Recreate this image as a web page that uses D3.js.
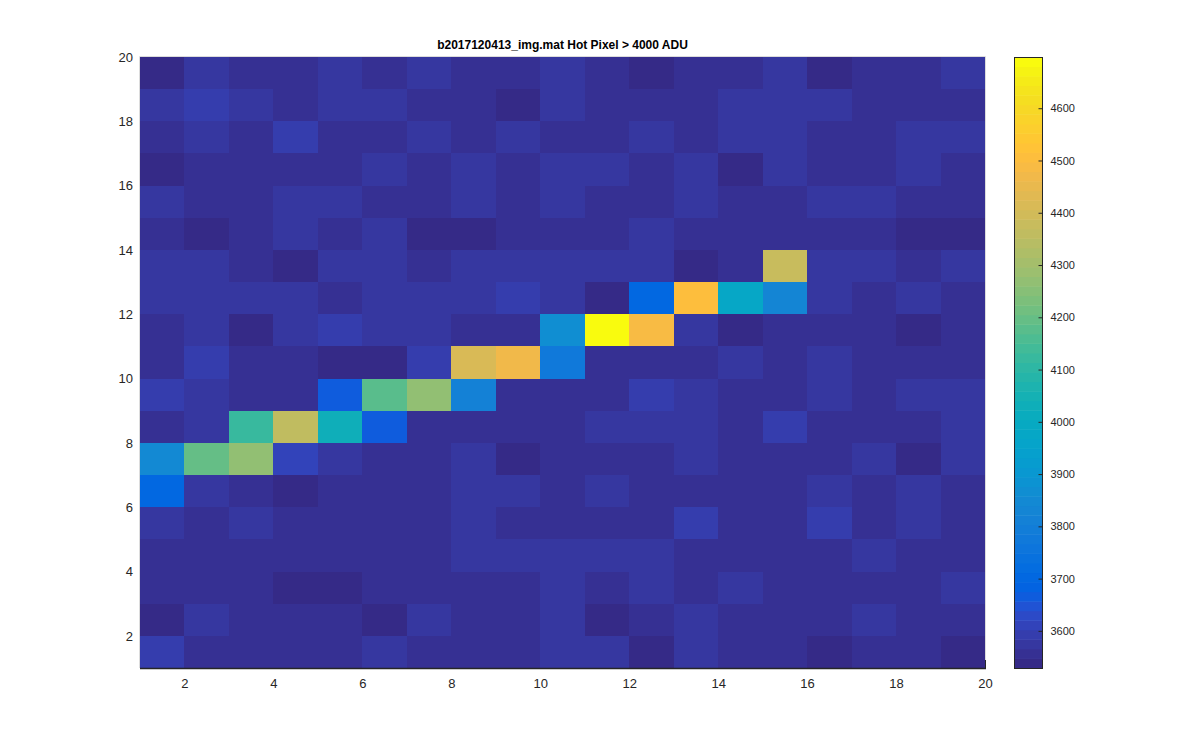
<!DOCTYPE html>
<html>
<head>
<meta charset="utf-8">
<script src="https://d3js.org/d3.v7.min.js"></script>
<style>
    body { margin: 0; background: #fff; }
    svg { font-family: "Liberation Sans", Arial, Helvetica, sans-serif; }
    .tick text { fill: #262626; }
</style>
</head>
<body>
<script>
    var SVGWidth = 1200;
    var SVGHeight = 750;

    var title = "b2017120413_img.mat Hot Pixel > 4000 ADU";

    // pixel columns / rows (pcolor cells, lower-left corner index)
    var cols = [1, 2, 3, 4, 5, 6, 7, 8, 9, 10, 11, 12, 13, 14, 15, 16, 17, 18, 19];
    var rows = [19, 18, 17, 16, 15, 14, 13, 12, 11, 10, 9, 8, 7, 6, 5, 4, 3, 2, 1];

    // ADU values, one line per row from top (19) to bottom (1)
    var values = [
        [3538, 3575, 3556, 3558, 3577, 3555, 3574, 3557, 3559, 3576, 3556, 3540, 3558, 3556, 3578, 3537, 3557, 3555, 3576],
        [3574, 3594, 3573, 3556, 3576, 3577, 3557, 3555, 3539, 3578, 3556, 3558, 3557, 3575, 3577, 3574, 3556, 3558, 3555],
        [3557, 3575, 3556, 3596, 3555, 3557, 3576, 3556, 3574, 3557, 3555, 3577, 3556, 3576, 3574, 3556, 3558, 3575, 3577],
        [3536, 3556, 3558, 3555, 3557, 3575, 3556, 3577, 3555, 3574, 3576, 3557, 3575, 3534, 3577, 3556, 3555, 3574, 3557],
        [3576, 3555, 3557, 3575, 3577, 3556, 3558, 3574, 3556, 3576, 3555, 3557, 3578, 3556, 3555, 3575, 3577, 3556, 3558],
        [3557, 3535, 3556, 3576, 3555, 3574, 3538, 3536, 3557, 3556, 3558, 3575, 3556, 3557, 3555, 3558, 3556, 3541, 3539],
        [3575, 3577, 3556, 3533, 3574, 3576, 3557, 3575, 3577, 3574, 3576, 3578, 3540, 3556, 4379, 3575, 3577, 3556, 3574],
        [3576, 3574, 3577, 3575, 3556, 3578, 3575, 3576, 3594, 3577, 3537, 3703, 4506, 3977, 3831, 3575, 3557, 3577, 3556],
        [3556, 3576, 3531, 3575, 3597, 3577, 3574, 3557, 3555, 3858, 4698, 4489, 3576, 3536, 3557, 3556, 3558, 3538, 3555],
        [3557, 3595, 3556, 3558, 3542, 3544, 3596, 4415, 4470, 3776, 3556, 3557, 3555, 3576, 3557, 3575, 3556, 3558, 3557],
        [3593, 3575, 3556, 3557, 3666, 4178, 4269, 3813, 3558, 3556, 3555, 3594, 3577, 3556, 3557, 3575, 3556, 3576, 3574],
        [3556, 3576, 4123, 4360, 4032, 3666, 3557, 3555, 3556, 3558, 3575, 3577, 3574, 3556, 3595, 3557, 3555, 3556, 3576],
        [3855, 4196, 4269, 3611, 3576, 3557, 3556, 3577, 3537, 3556, 3558, 3555, 3575, 3557, 3556, 3558, 3576, 3539, 3577],
        [3710, 3575, 3556, 3536, 3557, 3555, 3558, 3576, 3577, 3556, 3574, 3557, 3555, 3558, 3556, 3577, 3557, 3575, 3556],
        [3576, 3556, 3577, 3555, 3557, 3556, 3558, 3575, 3556, 3557, 3555, 3558, 3596, 3556, 3557, 3594, 3555, 3576, 3557],
        [3557, 3555, 3556, 3558, 3557, 3556, 3555, 3576, 3577, 3575, 3574, 3576, 3557, 3556, 3558, 3555, 3577, 3556, 3557],
        [3556, 3558, 3555, 3542, 3540, 3556, 3557, 3555, 3558, 3576, 3556, 3575, 3557, 3577, 3556, 3555, 3557, 3558, 3576],
        [3529, 3576, 3556, 3557, 3555, 3537, 3575, 3556, 3558, 3577, 3538, 3557, 3574, 3556, 3555, 3557, 3576, 3558, 3556],
        [3593, 3556, 3558, 3555, 3557, 3576, 3556, 3557, 3555, 3577, 3575, 3536, 3576, 3556, 3558, 3537, 3555, 3557, 3539]
    ];

    var xTicks = [2, 4, 6, 8, 10, 12, 14, 16, 18, 20];
    var yTicks = [2, 4, 6, 8, 10, 12, 14, 16, 18, 20];
    var cbarTicks = [3600, 3700, 3800, 3900, 4000, 4100, 4200, 4300, 4400, 4500, 4600];

    // MATLAB parula, 64 entries
    var parula = [
        [0.2081,0.1663,0.5292],[0.2116,0.1898,0.5777],[0.2123,0.2138,0.6270],[0.2081,0.2386,0.6771],
        [0.1959,0.2645,0.7279],[0.1707,0.2919,0.7792],[0.1253,0.3242,0.8303],[0.0591,0.3598,0.8683],
        [0.0117,0.3875,0.8820],[0.0060,0.4086,0.8828],[0.0165,0.4266,0.8786],[0.0329,0.4430,0.8720],
        [0.0498,0.4586,0.8641],[0.0629,0.4737,0.8554],[0.0723,0.4887,0.8467],[0.0779,0.5040,0.8384],
        [0.0793,0.5200,0.8312],[0.0749,0.5375,0.8263],[0.0641,0.5570,0.8240],[0.0488,0.5772,0.8228],
        [0.0343,0.5966,0.8199],[0.0265,0.6137,0.8135],[0.0239,0.6287,0.8038],[0.0231,0.6418,0.7913],
        [0.0228,0.6535,0.7768],[0.0267,0.6642,0.7607],[0.0384,0.6743,0.7436],[0.0590,0.6838,0.7254],
        [0.0843,0.6928,0.7062],[0.1133,0.7015,0.6859],[0.1453,0.7098,0.6646],[0.1801,0.7177,0.6424],
        [0.2178,0.7250,0.6193],[0.2586,0.7317,0.5954],[0.3022,0.7376,0.5712],[0.3482,0.7424,0.5473],
        [0.3953,0.7459,0.5244],[0.4420,0.7481,0.5033],[0.4871,0.7491,0.4840],[0.5300,0.7491,0.4661],
        [0.5709,0.7485,0.4494],[0.6099,0.7473,0.4337],[0.6473,0.7456,0.4188],[0.6834,0.7435,0.4044],
        [0.7184,0.7411,0.3905],[0.7525,0.7384,0.3768],[0.7858,0.7356,0.3633],[0.8185,0.7327,0.3498],
        [0.8507,0.7299,0.3360],[0.8824,0.7274,0.3217],[0.9139,0.7258,0.3063],[0.9450,0.7261,0.2886],
        [0.9739,0.7314,0.2666],[0.9938,0.7455,0.2403],[0.9990,0.7653,0.2164],[0.9955,0.7861,0.1967],
        [0.9880,0.8066,0.1794],[0.9789,0.8271,0.1633],[0.9697,0.8481,0.1475],[0.9626,0.8705,0.1309],
        [0.9589,0.8949,0.1132],[0.9598,0.9218,0.0948],[0.9661,0.9514,0.0755],[0.9763,0.9831,0.0538]
    ];
    var parulaHex = parula.map(function(c) {
        return d3.rgb(c[0] * 255, c[1] * 255, c[2] * 255).formatHex();
    });

    var margin = {left: 140, right: 985, top: 57, bottom: 668};

    var svg = d3.select("body")
        .append("svg")
        .attr("width", SVGWidth)
        .attr("height", SVGHeight);

    var x = d3.scaleLinear().domain([1, 20]).range([margin.left, margin.right]);
    var y = d3.scaleLinear().domain([1, 20]).range([margin.bottom, margin.top]);

    var cells = [];
    rows.forEach(function(r, i) {
        cols.forEach(function(c, j) {
            cells.push({col: c, row: r, v: values[i][j]});
        });
    });

    var cmin = d3.min(cells, function(d) { return d.v; });
    var cmax = d3.max(cells, function(d) { return d.v; });
    var color = d3.scaleQuantize().domain([cmin, cmax]).range(parulaHex);

    // cells
    svg.append("g")
        .attr("shape-rendering", "crispEdges")
        .selectAll("rect")
        .data(cells)
        .enter().append("rect")
        .attr("x", function(d) { return x(d.col); })
        .attr("y", function(d) { return y(d.row + 1); })
        .attr("width", function(d) { return Math.min(x(d.col + 1) + 0.6, margin.right) - x(d.col); })
        .attr("height", function(d) { return Math.min(y(d.row) + 0.6, margin.bottom) - y(d.row + 1); })
        .attr("fill", function(d) { return color(d.v); });

    // axes box: light top/left/right, dark bottom
    svg.append("path")
        .attr("d", "M" + (margin.left - 0.5) + "," + margin.bottom +
                   "V" + (margin.top - 0.5) +
                   "H" + (margin.right + 0.5) +
                   "V" + (margin.bottom - 8))
        .attr("fill", "none")
        .attr("stroke", "#dcdcdc")
        .attr("stroke-width", 1);

    svg.append("line")
        .attr("x1", margin.left).attr("x2", margin.right + 1)
        .attr("y1", margin.bottom + 0.5).attr("y2", margin.bottom + 0.5)
        .attr("stroke", "#262626").attr("stroke-width", 1.5);
    svg.append("line")
        .attr("x1", margin.right + 0.5).attr("x2", margin.right + 0.5)
        .attr("y1", margin.bottom - 8).attr("y2", margin.bottom)
        .attr("stroke", "#262626").attr("stroke-width", 1);

    var xAxis = svg.append("g")
        .attr("transform", "translate(0," + margin.bottom + ")")
        .call(d3.axisBottom(x).tickValues(xTicks).tickSize(0).tickPadding(11));
    xAxis.select(".domain").remove();
    xAxis.selectAll("text")
        .style("font-size", "13px")
        .style("font-stretch", "condensed")
        .style("font-family", "'Liberation Sans Narrow', 'Liberation Sans', Arial, sans-serif");

    var yAxis = svg.append("g")
        .attr("transform", "translate(" + margin.left + ",0)")
        .call(d3.axisLeft(y).tickValues(yTicks).tickSize(0).tickPadding(7));
    yAxis.select(".domain").remove();
    yAxis.selectAll("text").style("font-size", "13px");

    // title
    svg.append("text")
        .attr("x", (margin.left + margin.right) / 2)
        .attr("y", 49)
        .attr("text-anchor", "middle")
        .style("font-size", "12px")
        .style("font-weight", "bold")
        .attr("fill", "#000")
        .text(title);

    // colorbar
    var cb = {x: 1014, w: 28};
    var cy = d3.scaleLinear().domain([cmin, cmax]).range([margin.bottom, margin.top]);
    var bands = parulaHex.map(function(c) {
        var ext = color.invertExtent(c);
        return {c: c, lo: ext[0], hi: ext[1]};
    });

    svg.append("g")
        .selectAll("rect")
        .data(bands)
        .enter().append("rect")
        .attr("x", cb.x)
        .attr("y", function(d) { return cy(d.hi); })
        .attr("width", cb.w)
        .attr("height", function(d) { return cy(d.lo) - cy(d.hi) + 0.5; })
        .attr("fill", function(d) { return d.c; });

    svg.append("rect")
        .attr("x", cb.x + 0.5)
        .attr("y", margin.top + 0.5)
        .attr("width", cb.w)
        .attr("height", margin.bottom - margin.top)
        .attr("fill", "none")
        .attr("stroke", "#262626")
        .attr("stroke-width", 1);

    var cAxis = svg.append("g")
        .attr("transform", "translate(" + (cb.x + cb.w + 0.5) + ",0)")
        .call(d3.axisRight(cy).tickValues(cbarTicks).tickSize(-4).tickPadding(8).tickFormat(d3.format("d")));
    cAxis.select(".domain").remove();
    cAxis.selectAll("line").attr("stroke", "#262626");
    cAxis.selectAll("text").style("font-size", "11px");
</script>
</body>
</html>
